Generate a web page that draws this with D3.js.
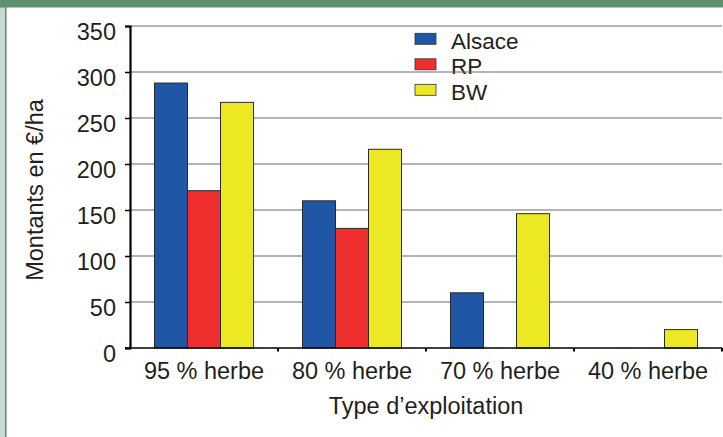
<!DOCTYPE html>
<html>
<head>
<meta charset="utf-8">
<script src="https://cdn.jsdelivr.net/npm/d3@7"></script>
<style>
body { margin: 0; background: #fff; }
text { font-family: "Liberation Sans", Arial, sans-serif; fill: #231f20; }
</style>
</head>
<body>
<svg width="723" height="437"></svg>
<script>
var categories = ["95 % herbe", "80 % herbe", "70 % herbe", "40 % herbe"];
var series = ["Alsace", "RP", "BW"];
var alsace = [288, 160, 60, null];
var rp = [171, 130, null, null];
var bw = [267, 216, 146, 20];
var yTicks = [0, 50, 100, 150, 200, 250, 300, 350];
var colors = ["#1f56a6", "#ee2f2e", "#ece824"];

var values = [alsace, rp, bw];

var svg = d3.select("svg"),
    width = +svg.attr("width"),
    height = +svg.attr("height");

var plotLeft = 130, plotRight = 722, plotTop = 26, plotBottom = 348;

// frame
svg.append("rect").attr("x", 0).attr("y", 0).attr("width", 5).attr("height", height).attr("fill", "#c9d9cf");
svg.append("rect").attr("x", 5).attr("y", 0).attr("width", 1.6).attr("height", height).attr("fill", "#5f9170");
svg.append("rect").attr("x", 0).attr("y", 0).attr("width", width).attr("height", 7.5).attr("fill", "#5f9170");

var y = d3.scaleLinear().domain([0, 350]).range([plotBottom, plotTop]);
var x0 = d3.scaleBand().domain(categories).range([plotLeft, plotRight]).padding(0);
var x1 = d3.scaleBand().domain(series).range([0, x0.bandwidth()]).paddingInner(0).paddingOuter(0.742);

// legend
var legend = svg.append("g").attr("class", "legend")
  .selectAll("g")
  .data(series)
  .enter().append("g")
    .attr("transform", function(d, i) { return "translate(415," + (33.3 + i * 25.5) + ")"; });
legend.append("rect")
  .attr("width", 21).attr("height", 11)
  .attr("fill", function(d, i) { return colors[i]; })
  .attr("stroke", "#333").attr("stroke-width", 0.8);
legend.append("text")
  .attr("x", 36).attr("y", 15.5)
  .style("font-size", "22.5px")
  .text(function(d) { return d; });

// grid
svg.append("g").attr("class", "grid")
  .selectAll("line")
  .data(yTicks.filter(function(d) { return d > 0; }))
  .enter().append("line")
    .attr("x1", plotLeft).attr("x2", plotRight)
    .attr("y1", function(d) { return y(d); })
    .attr("y2", function(d) { return y(d); })
    .attr("stroke", "#6b6b6b").attr("stroke-width", 1.2);

// bars
var group = svg.append("g").selectAll("g")
  .data(categories)
  .enter().append("g")
    .attr("transform", function(d) { return "translate(" + x0(d) + ",0)"; });

group.selectAll("rect")
  .data(function(d, ci) {
    return series.map(function(s, si) { return { s: s, si: si, v: values[si][ci] }; })
      .filter(function(e) { return e.v != null; });
  })
  .enter().append("rect")
    .attr("x", function(d) { return x1(d.s); })
    .attr("y", function(d) { return y(d.v); })
    .attr("width", x1.bandwidth())
    .attr("height", function(d) { return plotBottom - y(d.v); })
    .attr("fill", function(d) { return colors[d.si]; })
    .attr("stroke", "#2b2b2b").attr("stroke-width", 1);

// y axis
var yAxis = svg.append("g")
  .attr("transform", "translate(" + plotLeft + ",0)")
  .call(d3.axisLeft(y).tickValues(yTicks).tickSize(5).tickPadding(9));
yAxis.select(".domain").attr("stroke", "#000").attr("stroke-width", 2.2);
yAxis.selectAll(".tick line").attr("stroke", "#000").attr("stroke-width", 1.5);
yAxis.selectAll(".tick text")
  .attr("dy", "0.56em")
  .style("font-size", "23.5px")
  .style("font-family", "Liberation Sans, Arial, sans-serif")
  .attr("fill", "#231f20");

// x axis
var xAxis = svg.append("g")
  .attr("transform", "translate(0," + plotBottom + ")");
xAxis.append("line")
  .attr("x1", plotLeft - 5).attr("x2", plotRight)
  .attr("stroke", "#000").attr("stroke-width", 1.6);
xAxis.selectAll(".xtick")
  .data(categories)
  .enter().append("line")
    .attr("x1", function(d) { return x0(d) + x0.bandwidth(); })
    .attr("x2", function(d) { return x0(d) + x0.bandwidth(); })
    .attr("y1", 0).attr("y2", 3.5)
    .attr("stroke", "#000").attr("stroke-width", 2);
xAxis.selectAll(".xlabel")
  .data(categories)
  .enter().append("text")
    .attr("x", function(d) { return x0(d) + x0.bandwidth() / 2; })
    .attr("y", 31)
    .attr("text-anchor", "middle")
    .style("font-size", "23.5px")
    .text(function(d) { return d; });

// titles
svg.append("text")
  .attr("transform", "translate(43,190) rotate(-90)")
  .attr("text-anchor", "middle")
  .style("font-size", "23.5px")
  .text("Montants en €/ha");

svg.append("text")
  .attr("x", 426).attr("y", 414)
  .attr("text-anchor", "middle")
  .style("font-size", "23.5px")
  .text("Type d’exploitation");
</script>
</body>
</html>
